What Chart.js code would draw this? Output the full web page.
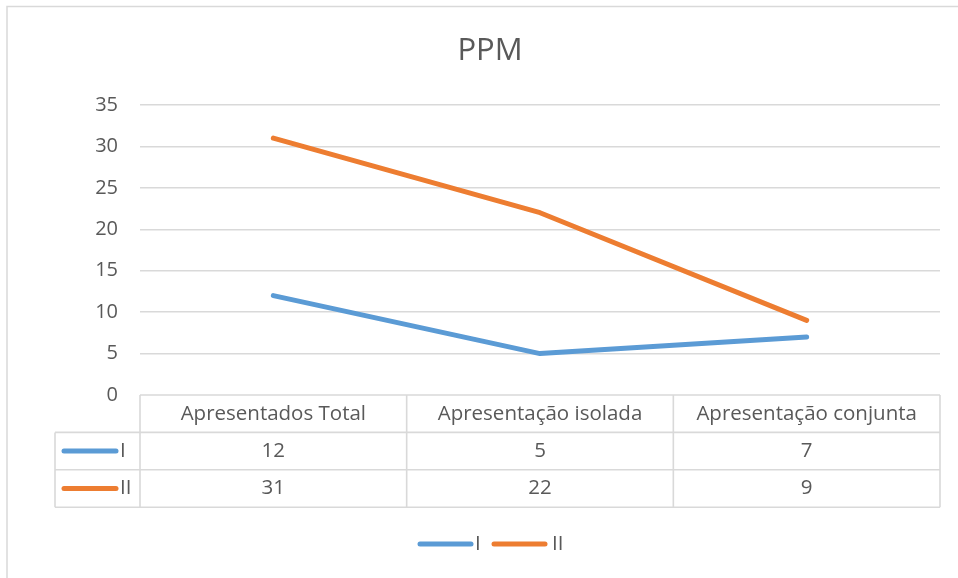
<!DOCTYPE html>
<html>
<head>
<meta charset="utf-8">
<script src="https://cdn.jsdelivr.net/npm/chart.js@4"></script>
<style>
  html, body { margin: 0; padding: 0; background: #ffffff; }
  #wrap { width: 958px; height: 578px; }
</style>
</head>
<body>
<div id="wrap"><canvas id="c" width="958" height="578"></canvas></div>
<script>
const chartTitle = "PPM";
const categories = ["Apresentados Total", "Apresentação isolada", "Apresentação conjunta"];
const seriesNames = ["I", "II"];
const seriesI = [12, 5, 7];
const seriesII = [31, 22, 9];
const seriesColors = ["#5B9BD5", "#ED7D31"];
const yTicks = [0, 5, 10, 15, 20, 25, 30, 35];

const FONT = "'Open Sans', Lato, 'Liberation Sans', sans-serif";
const TEXT = "#595959";
const GRID = "#D9D9D9";

const tablePlugin = {
  id: "dataTable",
  afterDraw(chart) {
    const ctx = chart.ctx;
    const xs = chart.scales.x;
    const area = chart.chartArea;
    const left = area.left, right = area.right;
    const n = categories.length;
    const colW = (right - left) / n;
    const top = area.bottom;
    const rowH = 37.4;
    const keyLeft = 55;
    const rows = [top, top + rowH, top + 2 * rowH, top + 3 * rowH];

    ctx.save();
    // frame
    ctx.strokeStyle = GRID;
    ctx.lineWidth = 1.5;
    ctx.beginPath();
    ctx.moveTo(7, 1000); ctx.lineTo(7, 6.5); ctx.lineTo(1000, 6.5);
    ctx.stroke();

    // title
    ctx.fillStyle = TEXT;
    ctx.font = "31px " + FONT;
    ctx.textAlign = "center";
    ctx.textBaseline = "middle";
    ctx.fillText(chartTitle, 490, 51);

    // table grid
    ctx.strokeStyle = GRID;
    ctx.lineWidth = 1.6;
    ctx.beginPath();
    ctx.moveTo(left, rows[0]); ctx.lineTo(right, rows[0]);
    for (let r = 1; r <= 3; r++) { ctx.moveTo(keyLeft, rows[r]); ctx.lineTo(right, rows[r]); }
    for (let i = 0; i <= n; i++) {
      const x = left + i * colW;
      ctx.moveTo(x, rows[0]); ctx.lineTo(x, rows[3]);
    }
    ctx.moveTo(keyLeft, rows[1]); ctx.lineTo(keyLeft, rows[3]);
    ctx.stroke();

    // header and values
    ctx.fillStyle = TEXT;
    ctx.font = "20.5px " + FONT;
    ctx.textAlign = "center";
    ctx.textBaseline = "middle";
    const allSeries = [seriesI, seriesII];
    categories.forEach((c, i) => {
      const cx = xs.getPixelForValue(i);
      ctx.fillText(c, cx, (rows[0] + rows[1]) / 2);
      allSeries.forEach((s, k) => {
        ctx.fillText(String(s[i]), cx, (rows[k + 1] + rows[k + 2]) / 2);
      });
    });

    // legend keys in table
    ctx.lineCap = "round";
    seriesNames.forEach((nm, k) => {
      const cy = (rows[k + 1] + rows[k + 2]) / 2;
      ctx.strokeStyle = seriesColors[k];
      ctx.lineWidth = 5;
      ctx.beginPath(); ctx.moveTo(64, cy); ctx.lineTo(116, cy); ctx.stroke();
      ctx.fillStyle = TEXT;
      ctx.textAlign = "left";
      ctx.fillText(nm, 120, cy);
    });

    // bottom legend
    const ly = 544;
    const items = [{x: 420, tx: 475}, {x: 494, tx: 552}];
    seriesNames.forEach((nm, k) => {
      ctx.strokeStyle = seriesColors[k];
      ctx.lineWidth = 5;
      ctx.beginPath(); ctx.moveTo(items[k].x, ly); ctx.lineTo(items[k].x + 51, ly); ctx.stroke();
      ctx.fillStyle = TEXT;
      ctx.textAlign = "left";
      ctx.fillText(nm, items[k].tx, ly);
    });
    ctx.restore();
  }
};

new Chart(document.getElementById("c"), {
  type: "line",
  data: {
    labels: categories,
    datasets: [
      { label: seriesNames[0], data: seriesI, borderColor: seriesColors[0], backgroundColor: seriesColors[0],
        borderWidth: 5, pointRadius: 0, borderCapStyle: "round", borderJoinStyle: "round", tension: 0 },
      { label: seriesNames[1], data: seriesII, borderColor: seriesColors[1], backgroundColor: seriesColors[1],
        borderWidth: 5, pointRadius: 0, borderCapStyle: "round", borderJoinStyle: "round", tension: 0 }
    ]
  },
  options: {
    responsive: false,
    animation: false,
    layout: { padding: { left: 0, right: 18, top: 105, bottom: 183 } },
    plugins: { legend: { display: false }, title: { display: false }, tooltip: { enabled: false } },
    scales: {
      x: {
        type: "category",
        display: false,
        offset: true
      },
      y: {
        min: 0, max: 35,
        afterFit(scale) { scale.width = 140; },
        afterBuildTicks(scale) { scale.ticks = yTicks.map(v => ({ value: v })); },
        border: { display: false },
        grid: {
          color: (c) => c.tick && c.tick.value === 0 ? "rgba(0,0,0,0)" : GRID,
          lineWidth: 1.5,
          drawTicks: false
        },
        ticks: { color: TEXT, font: { family: FONT, size: 20 }, padding: 22 }
      }
    }
  },
  plugins: [tablePlugin]
});
</script>
</body>
</html>
